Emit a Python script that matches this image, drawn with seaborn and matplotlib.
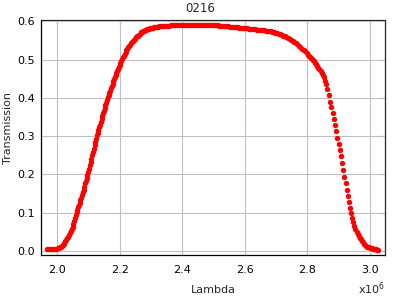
import matplotlib
matplotlib.use("Agg")
import matplotlib.pyplot as plt
import seaborn as sns
import pandas as pd
from matplotlib.ticker import FuncFormatter

# ---------------- data (Lambda in units of 1e6) ----------------
rise_lambda = [
    1.968, 1.973, 1.978, 1.983, 1.988, 1.993, 1.998, 2.003,
    2.006, 2.009, 2.012, 2.015, 2.018, 2.021, 2.024, 2.027, 2.030, 2.033, 2.036, 2.039, 2.042, 2.045, 2.048,
    2.050, 2.0525, 2.055, 2.0575, 2.060, 2.0625,
    2.065, 2.0675, 2.070, 2.0725, 2.075, 2.0775, 2.080,
    2.0825, 2.085, 2.0875, 2.090, 2.0925, 2.095, 2.0975,
    2.100, 2.1025, 2.105, 2.1075, 2.110, 2.1125, 2.115, 2.1175, 2.120, 2.1225, 2.125, 2.1275,
    2.130, 2.1325, 2.135, 2.1375, 2.140, 2.1425, 2.145, 2.1475, 2.150, 2.1525, 2.155, 2.1575, 2.160, 2.1625,
    2.165, 2.1675, 2.170, 2.1725, 2.175, 2.1775, 2.180, 2.1825, 2.185,
    2.1875, 2.190, 2.1925, 2.195, 2.1975, 2.200, 2.2025, 2.205, 2.2075,
]
rise_trans = [
    .004, .004, .004, .004, .005, .005, .005, .006,
    .007, .009, .010, .012, .015, .018, .021, .025, .029, .033, .037, .042, .046, .051, .057,
    .063, .071, .078, .086, .094, .101,
    .107, .114, .120, .126, .132, .139, .145,
    .153, .160, .168, .176, .183, .191, .198,
    .207, .215, .224, .233, .241, .250, .259, .267, .276, .284, .293, .302,
    .309, .316, .323, .330, .337, .345, .352, .359, .366, .373, .380, .387, .394, .401,
    .407, .413, .419, .425, .431, .437, .443, .449, .455,
    .460, .465, .470, .476, .481, .486, .491, .496, .501,
]

top_lambda = [
    2.210, 2.213, 2.216, 2.219, 2.222, 2.225, 2.228, 2.231, 2.234, 2.237, 2.240, 2.243, 2.246,
    2.249, 2.252, 2.255, 2.258, 2.261, 2.264, 2.267, 2.270, 2.273, 2.276, 2.279, 2.282, 2.285,
    2.288, 2.291, 2.294, 2.297, 2.300, 2.303, 2.306,
    2.310, 2.314, 2.318, 2.322, 2.326, 2.330, 2.334, 2.338, 2.342, 2.346, 2.350, 2.354, 2.358,
    2.363, 2.368, 2.373, 2.378, 2.383, 2.388, 2.393, 2.398,
    2.403, 2.408, 2.413, 2.418, 2.423, 2.428, 2.433, 2.438, 2.443, 2.448, 2.453,
    2.458, 2.463, 2.468, 2.473, 2.478, 2.483, 2.488, 2.493, 2.498, 2.503,
    2.508, 2.513, 2.518, 2.523, 2.528, 2.533, 2.538, 2.543, 2.548, 2.553, 2.558, 2.563,
    2.568, 2.573, 2.578, 2.583, 2.588, 2.593, 2.598, 2.603, 2.608, 2.613, 2.618, 2.623,
    2.628, 2.633, 2.638, 2.643, 2.648, 2.653, 2.658, 2.663, 2.668, 2.673, 2.678,
    2.683, 2.688, 2.693, 2.698, 2.703, 2.708, 2.713, 2.718, 2.723, 2.728, 2.733, 2.738,
    2.743, 2.748, 2.753, 2.758, 2.763, 2.768, 2.773, 2.778, 2.783, 2.788, 2.793, 2.798, 2.803,
]
top_trans = [
    .5053, .5104, .5152, .5197, .5240, .5281, .5320, .5357, .5392, .5426, .5458, .5489, .5519,
    .5548, .5576, .5602, .5626, .5649, .5670, .5689, .5707, .5724, .5739, .5753, .5766, .5778,
    .5789, .5799, .5808, .5816, .5823, .5830, .5836,
    .5843, .5849, .5855, .5860, .5865, .5869, .5873, .5876, .5879, .5882, .5885, .5887, .5889,
    .5891, .5893, .5895, .5896, .5897, .5898, .5899, .5900,
    .590, .590, .590, .590, .590, .590, .590, .590, .590, .590, .590,
    .590, .590, .590, .590, .590, .590, .590, .590, .590, .590,
    .5896, .5892, .5888, .5884, .5880, .5876, .5872, .5868, .5864, .5860, .5856, .5852,
    .5848, .5844, .5840, .5836, .5832, .5828, .5824, .5819, .5814, .5809, .5804, .5799,
    .5794, .5789, .5784, .5779, .5774, .5769, .5764, .5759, .5754, .5749, .5744,
    .5737, .5728, .5717, .5705, .5692, .5677, .5661, .5644, .5625, .5604, .5582, .5559,
    .5535, .5510, .5483, .5455, .5425, .5393, .5360, .5325, .5288, .5250, .5210, .5168, .5124,
]

fall_lambda = [
    2.806, 2.809, 2.812, 2.815, 2.818, 2.821, 2.8245, 2.828, 2.8315, 2.835, 2.8385, 2.842,
    2.8455, 2.849, 2.8525, 2.856, 2.8595, 2.864, 2.869, 2.873, 2.877, 2.8805, 2.884, 2.888,
    2.892, 2.896, 2.8995, 2.9035, 2.907, 2.911, 2.915, 2.9185, 2.922, 2.9255, 2.929, 2.9325,
    2.936, 2.9395, 2.943, 2.9465, 2.950, 2.9535, 2.957, 2.9605, 2.964, 2.9675, 2.971, 2.9745,
    2.978, 2.9815, 2.985, 2.9885, 2.992, 2.9955, 2.999, 3.0025, 3.006, 3.0095, 3.013, 3.0165,
    3.020, 3.0235, 3.027,
]
fall_trans = [
    .5100, .5074, .5046, .5018, .4990, .4957, .492, .488, .484, .479, .475, .471,
    .466, .460, .453, .445, .435, .422, .407, .390, .375, .360, .345, .329,
    .312, .295, .280, .263, .247, .230, .212, .194, .176, .158, .142, .127,
    .112, .099, .086, .075, .065, .057, .050, .044, .039, .034, .030, .026,
    .022, .019, .016, .013, .011, .009, .008, .007, .006, .005, .005, .004,
    .004, .003, .003,
]

x_ticks = [2.0, 2.2, 2.4, 2.6, 2.8, 3.0]
y_ticks = [0.0, 0.1, 0.2, 0.3, 0.4, 0.5, 0.6]

assert len(rise_lambda) == len(rise_trans)
assert len(top_lambda) == len(top_trans)
assert len(fall_lambda) == len(fall_trans)

df = pd.DataFrame({
    "Lambda": [v * 1e6 for v in rise_lambda + top_lambda + fall_lambda],
    "Transmission": rise_trans + top_trans + fall_trans,
})

# ---------------- figure ----------------
sns.set_style("white")
plt.rcParams["font.family"] = ["DejaVu Sans"]
plt.rcParams["mathtext.default"] = "regular"

fig = plt.figure(figsize=(4, 3), dpi=100)
ax = fig.add_axes([41 / 400, 1 - 255 / 300, 344 / 400, 234.5 / 300])

sns.scatterplot(data=df, x="Lambda", y="Transmission", color="#ff0000",
                s=15, linewidth=0, marker="o", ax=ax, legend=False, zorder=3)

ax.set_xlim(1.949e6, 3.048e6)
ax.set_ylim(-0.011, 0.602)
ax.set_xticks([t * 1e6 for t in x_ticks])
ax.set_yticks(y_ticks)
ax.xaxis.set_major_formatter(FuncFormatter(lambda v, p: f"{v / 1e6:.1f}"))
ax.yaxis.set_major_formatter(FuncFormatter(lambda v, p: f"{v:.1f}"))

ax.grid(True, color="#c0c0c0", linewidth=0.8, zorder=0)
ax.set_axisbelow(True)
for name, sp in ax.spines.items():
    sp.set_color("black")
    sp.set_linewidth(0.9)
    sp.set_visible(name in ("left", "bottom"))

ax.tick_params(axis="both", direction="out", length=2.6, width=0.8,
               labelsize=8, colors="black")
ax.tick_params(axis="x", pad=4.5)
ax.tick_params(axis="y", pad=1.5)

# mirrored inward ticks on top/right
secx = ax.secondary_xaxis("top")
secx.set_xticks([t * 1e6 for t in x_ticks])
secx.tick_params(direction="in", length=2.8, width=0.8, labeltop=False)
secx.spines["top"].set_linewidth(0.9)
secy = ax.secondary_yaxis("right")
secy.set_yticks(y_ticks)
secy.tick_params(direction="in", length=2.8, width=0.8, labelright=False)
secy.spines["right"].set_linewidth(0.9)

ax.set_xlabel("Lambda", fontsize=8)
ax.xaxis.set_label_coords(0.5, -(290 - 255) / 234.5)
ax.xaxis.label.set_va("center")
ax.set_ylabel("Transmission", fontsize=8)
ax.yaxis.set_label_coords((8 - 41) / 344, (255 - 128) / 234.5)
ax.yaxis.label.set_va("center")

ax.text(1.0, -(294 - 255) / 234.5, "x10$^{6}$", transform=ax.transAxes,
        ha="right", va="baseline", fontsize=8)

fig.text(0.5, 1 - 12 / 300, "0216", ha="center", va="baseline", fontsize=8.5)

fig.savefig("out.png", dpi=100)
